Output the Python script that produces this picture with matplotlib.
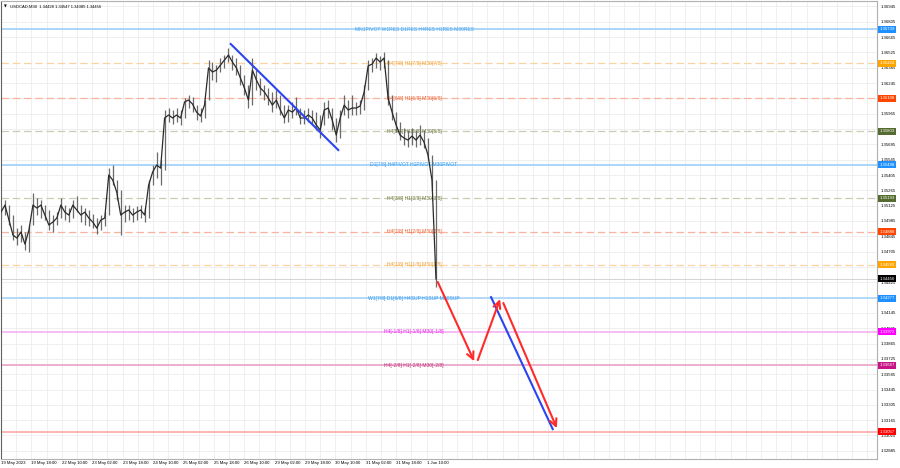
import numpy as np
import matplotlib
matplotlib.use("Agg")
import matplotlib.pyplot as plt

plt.rcParams['font.family'] = ['Liberation Sans', 'DejaVu Sans']

# price samples (one sample every ~4 M30 bars)
high = [1.35130, 1.35176, 1.35130, 1.35039, 1.34920, 1.34948, 1.34884, 1.34948, 1.35240, 1.35194,
        1.35176, 1.35130, 1.35085, 1.35039, 1.35066, 1.35194, 1.35130, 1.35103, 1.35176, 1.35213,
        1.35130, 1.35103, 1.35085, 1.35048, 1.35012, 1.35039, 1.35066, 1.35468, 1.35496, 1.35359,
        1.35267, 1.35130, 1.35130, 1.35103, 1.35121, 1.35130, 1.35103, 1.35359, 1.35496, 1.35615,
        1.35542, 1.35999, 1.36017, 1.35999, 1.36017, 1.35999, 1.36108, 1.36136, 1.36117, 1.36044,
        1.36017, 1.36090, 1.36456, 1.36437, 1.36410, 1.36474, 1.36501, 1.36565, 1.36501, 1.36474,
        1.36410, 1.36319, 1.36227, 1.36474, 1.36364, 1.36291, 1.36227, 1.36200, 1.36163, 1.36181,
        1.36136, 1.36044, 1.36044, 1.36072, 1.36117, 1.36017, 1.35999, 1.36017, 1.35999, 1.35980,
        1.35953, 1.36072, 1.36090, 1.36017, 1.35926, 1.35999, 1.36136, 1.36090, 1.36136, 1.36072,
        1.36090, 1.36227, 1.36456, 1.36474, 1.36520, 1.36492, 1.36529, 1.36456, 1.36136, 1.35980,
        1.35889, 1.35834, 1.35816, 1.35834, 1.35816, 1.35862, 1.35816, 1.35743, 1.35587, 1.35359]
low = [1.35012, 1.35039, 1.34948, 1.34810, 1.34765, 1.34792, 1.34719, 1.34701, 1.34948, 1.35039,
       1.35012, 1.34993, 1.34902, 1.34884, 1.34948, 1.35012, 1.34993, 1.34975, 1.35012, 1.35066,
       1.34975, 1.34948, 1.34938, 1.34920, 1.34865, 1.34902, 1.34938, 1.35039, 1.35313, 1.35176,
       1.34856, 1.34975, 1.34993, 1.34975, 1.34993, 1.35012, 1.34975, 1.35012, 1.35313, 1.35377,
       1.35313, 1.35450, 1.35889, 1.35871, 1.35889, 1.35862, 1.35926, 1.36017, 1.35980, 1.35907,
       1.35889, 1.35926, 1.36090, 1.36273, 1.36255, 1.36346, 1.36383, 1.36437, 1.36364, 1.36319,
       1.36227, 1.36136, 1.36017, 1.36044, 1.36181, 1.36136, 1.36090, 1.36044, 1.35980, 1.36017,
       1.35953, 1.35880, 1.35889, 1.35926, 1.35953, 1.35871, 1.35871, 1.35889, 1.35871, 1.35816,
       1.35743, 1.35862, 1.35926, 1.35816, 1.35706, 1.35743, 1.35953, 1.35926, 1.35953, 1.35953,
       1.35962, 1.35999, 1.36181, 1.36346, 1.36383, 1.36364, 1.36383, 1.36044, 1.35907, 1.35798,
       1.35724, 1.35679, 1.35660, 1.35679, 1.35660, 1.35679, 1.35651, 1.35542, 1.35267, 1.34385]
close = [1.35066, 1.35130, 1.34993, 1.34856, 1.34829, 1.34884, 1.34774, 1.34902, 1.35130, 1.35103,
         1.35130, 1.35039, 1.34948, 1.34975, 1.35012, 1.35130, 1.35066, 1.35039, 1.35130, 1.35085,
         1.35039, 1.35066, 1.35012, 1.34975, 1.34920, 1.34993, 1.35012, 1.35405, 1.35359, 1.35249,
         1.35039, 1.35066, 1.35085, 1.35039, 1.35066, 1.35085, 1.35039, 1.35313, 1.35432, 1.35496,
         1.35468, 1.35926, 1.35953, 1.35926, 1.35953, 1.35926, 1.36072, 1.36090, 1.36053, 1.35980,
         1.35944, 1.36044, 1.36383, 1.36346, 1.36364, 1.36410, 1.36456, 1.36501, 1.36437, 1.36383,
         1.36291, 1.36200, 1.36090, 1.36364, 1.36273, 1.36200, 1.36163, 1.36108, 1.36044, 1.36090,
         1.35999, 1.35926, 1.35999, 1.35980, 1.36017, 1.35926, 1.35926, 1.35953, 1.35926, 1.35862,
         1.35816, 1.35999, 1.36017, 1.35907, 1.35770, 1.35926, 1.36044, 1.35999, 1.36017, 1.36017,
         1.36035, 1.36163, 1.36401, 1.36419, 1.36474, 1.36437, 1.36474, 1.36108, 1.35980, 1.35862,
         1.35770, 1.35743, 1.35724, 1.35761, 1.35724, 1.35770, 1.35706, 1.35587, 1.35359, 1.34456]
bars_per_sample = 4.2

# Murrey / pivot levels
levels = [1.36739, 1.36424, 1.36108, 1.35803, 1.35498, 1.35193, 1.34888, 1.34583,
          1.34277, 1.33972, 1.33667, 1.33057]
level_names = ["MN1PIVOT W1RES D1RES H4RES H1RES M30RES",
               "H4[7/8] H1[7/8] M30[7/8]",
               "H4[6/8] H1[6/8] M30[6/8]",
               "H4[5/8] H1[5/8] M30[5/8]",
               "D1[7/8] H4PIVOT H1PIVOT M30PIVOT",
               "H4[3/8] H1[3/8] M30[3/8]",
               "H4[2/8] H1[2/8] M30[2/8]",
               "H4[1/8] H1[1/8] M30[1/8]",
               "W1[7/8] D1[6/8] H4SUP H1SUP M30SUP",
               "H4[-1/8] H1[-1/8] M30[-1/8]",
               "H4[-2/8] H1[-2/8] M30[-2/8]",
               ""]
line_cols = ['#9dd0fa', '#fbd3a0', '#f9b29c', '#cbcbb4', '#9dd0fa', '#cbcbb4', '#f9b29c',
             '#fbd3a0', '#a8d5fa', '#f5b0f5', '#eaa0c4', '#ffa8a8']
line_dash = [False, True, True, True, False, True, True, True, False, False, False, False]
text_cols = ['#4aa3e8', '#f0a030', '#f06030', '#6b7a3a', '#3399ee', '#6b7a3a', '#f06030',
             '#f0a030', '#3399ee', '#ee22ee', '#c0307a', '#ff0000']
box_cols = ['#1e90ff', '#ffa500', '#ff4500', '#556b2f', '#1e90ff', '#556b2f', '#ff4500',
            '#ffa500', '#1e90ff', '#ff00ff', '#c71585', '#ff0000']
last_price = 1.34456

# trend lines and forecast arrows (bar index, price)
blue_lines = [((241.8, 1.36602), (355.0, 1.35633)),
              ((515.8, 1.34289), (580.7, 1.33083))]
red_arrows = [((459.7, 1.34427), (498.0, 1.33704)),
              ((501.8, 1.33714), (525.3, 1.34271)),
              ((528.7, 1.34235), (585.0, 1.33092))]

time_labels = ["19 May 2023", "19 May 18:00", "22 May 10:00", "23 May 02:00", "23 May 18:00",
               "24 May 10:00", "25 May 02:00", "25 May 18:00", "26 May 10:00", "29 May 02:00",
               "29 May 18:00", "30 May 10:00", "31 May 02:00", "31 May 18:00", "1 Jun 10:00"]
price_ticks = [1.36945 - 0.0014 * k for k in range(30)]

fs = 3.6      # level labels
fs_ax = 3.1   # axis texts
fig = plt.figure(figsize=(9, 4.68), dpi=100)
ax = fig.add_axes([1 / 900, 9 / 468, 876 / 900, 458 / 468])
ax.set_xlim(0, 922)
ax.set_ylim(1.32810, 1.36995)

# grid
ax.set_xticks(np.arange(len(time_labels)) * 32)
ax.set_xticks(np.arange(0, 922, 16), minor=True)
ax.set_yticks(price_ticks)
ax.grid(True, which='both', color='#ececec', lw=0.6)
ax.set_axisbelow(True)
ax.set_xticklabels(time_labels, ha='left', fontsize=fs_ax)
ax.set_yticklabels(["%.5f" % t for t in price_ticks], fontsize=fs_ax)
ax.yaxis.tick_right()
ax.tick_params(axis='both', which='both', length=0, pad=1.5)
ax.tick_params(axis='y', pad=2.5)
for s in ['top', 'right', 'bottom']:
    ax.spines[s].set_color('#b0b0b0')
    ax.spines[s].set_linewidth(0.8)
ax.spines['left'].set_color('#606060')

# levels
lbl_x = 434.7
for lv, name, lc, dash, tc in zip(levels, level_names, line_cols, line_dash, text_cols):
    ax.axhline(lv, color=lc, lw=0.9 if dash else 1.2, ls=(0, (6, 3)) if dash else '-', zorder=1)
    if name:
        ax.text(lbl_x, lv, name, color=tc, fontsize=fs, ha='center', va='center', zorder=2)
ax.axhline(last_price, color='#d4d4d4', lw=0.7, zorder=1)

# price bars
bx = np.arange(len(close)) * bars_per_sample
ax.vlines(bx, low, high, color='#6a6a6a', lw=0.9, zorder=3)
ax.plot(bx, close, color='#2a2a2a', lw=0.9, zorder=4)

for (x0, y0), (x1, y1) in blue_lines:
    ax.plot([x0, x1], [y0, y1], color='#2a45f0', lw=1.5, zorder=5)
for (x0, y0), (x1, y1) in red_arrows:
    ax.annotate('', xy=(x1, y1), xytext=(x0, y0), zorder=6,
                arrowprops=dict(arrowstyle='->,head_length=0.5,head_width=0.25',
                                color='#ff2a2a', lw=1.5, shrinkA=0, shrinkB=0))

# right-side price boxes
trans = ax.get_yaxis_transform()
for lv, bc in zip(levels + [last_price], box_cols + ['#000000']):
    ax.text(1.0025, lv, "%.5f" % lv, transform=trans, fontsize=fs_ax, color='white',
            ha='left', va='center', clip_on=False, zorder=10,
            bbox=dict(boxstyle='square,pad=0.35', fc=bc, ec='none'))

fig.text(4 / 900, 1 - 7 / 468, "\u25bc", fontsize=2.6, va='center', ha='left',
         family=['DejaVu Sans'])
fig.text(10 / 900, 1 - 7 / 468, "USDCAD,M30  1.34428 1.34547 1.34385 1.34456",
         fontsize=3.0, va='center', ha='left')

fig.savefig("out.png", dpi=100)
